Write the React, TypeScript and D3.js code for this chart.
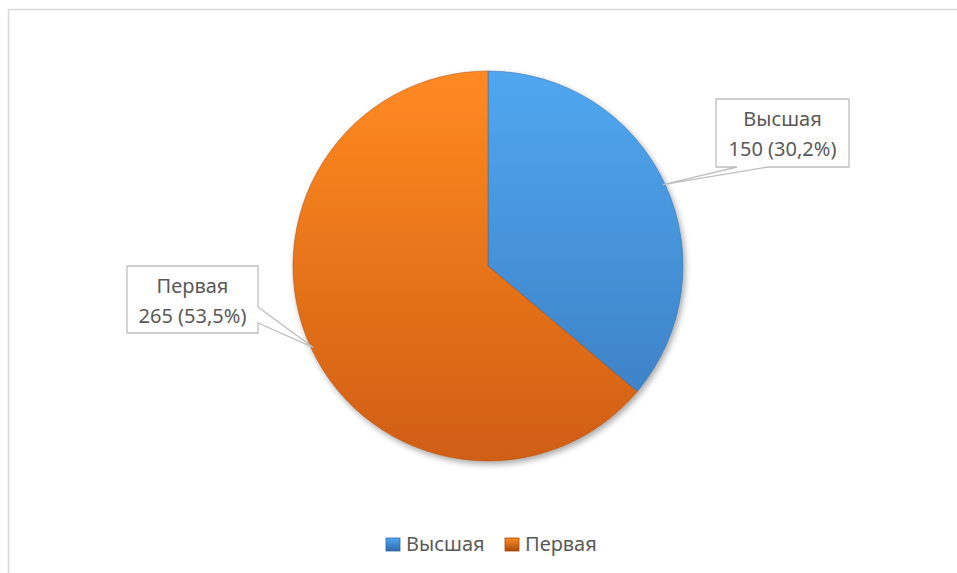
import React from 'react';
import * as d3 from 'd3';

const categories = ['Высшая', 'Первая'];
const values = [150, 265];
const shareLabels = ['30,2%', '53,5%'];

const W = 957;
const H = 573;
const cx = 488;
const cy = 266;
const R = 195;

// top / bottom gradient colours per slice
const sliceColors = [
  { top: '#50a7f0', bottom: '#3a7bbf', edge: '#2f6aa8' },
  { top: '#ff8a22', bottom: '#d05e12', edge: '#a94c0c' },
];

// label boxes (layout only): box rect + where the wedge leaves the box
const boxes = [
  { x: 716, y: 99, w: 133, h: 68, side: 'bottom', a: 21, b: 52 },
  { x: 127, y: 266, w: 131, h: 67, side: 'right', a: 41, b: 57 },
];

const font = '"Noto Sans", "DejaVu Sans", sans-serif';

export default function App() {
  const pie = d3.pie<number>().sort(null).startAngle(0).endAngle(2 * Math.PI);
  const arcs = pie(values);
  const arc = d3.arc<d3.PieArcDatum<number>>().innerRadius(0).outerRadius(R);
  const rim = d3.arc<d3.PieArcDatum<number>>().innerRadius(R - 2).outerRadius(R - 2);

  const callout = (i: number) => {
    const bx = boxes[i];
    const [tx, ty] = rim.centroid(arcs[i]);
    const px = cx + tx;
    const py = cy + ty;
    const x1 = bx.x + bx.w;
    const y1 = bx.y + bx.h;
    if (bx.side === 'bottom') {
      return `M${bx.x},${bx.y}H${x1}V${y1}H${bx.x + bx.b}L${px},${py}L${bx.x + bx.a},${y1}H${bx.x}Z`;
    }
    return `M${bx.x},${bx.y}H${x1}V${bx.y + bx.a}L${px},${py}L${x1},${bx.y + bx.b}V${y1}H${bx.x}Z`;
  };

  const legendX = [386, 505];

  return (
    <div style={{ position: 'fixed', left: 0, top: 0, width: W, height: H, background: '#fff' }}>
      <svg width={W} height={H} style={{ display: 'block' }}>
        <defs>
          {sliceColors.map((c, i) => (
            <linearGradient
              key={i}
              id={`g${i}`}
              gradientUnits="userSpaceOnUse"
              x1={0}
              y1={-R}
              x2={0}
              y2={R}
            >
              <stop offset="0" stopColor={c.top} />
              <stop offset="1" stopColor={c.bottom} />
            </linearGradient>
          ))}
          {sliceColors.map((c, i) => (
            <linearGradient key={'l' + i} id={`lg${i}`} x1="0" y1="0" x2="0" y2="1">
              <stop offset="0" stopColor={c.top} />
              <stop offset="1" stopColor={c.edge} />
            </linearGradient>
          ))}
          <filter id="shadow" x="-10%" y="-10%" width="130%" height="130%">
            <feGaussianBlur in="SourceAlpha" stdDeviation="3" />
            <feOffset dx="2" dy="3" result="b" />
            <feComponentTransfer>
              <feFuncA type="linear" slope="0.35" />
            </feComponentTransfer>
            <feMerge>
              <feMergeNode />
              <feMergeNode in="SourceGraphic" />
            </feMerge>
          </filter>
        </defs>

        <rect x={8.5} y={9.5} width={W} height={H} fill="#fff" stroke="#d9d9d9" strokeWidth={1.5} />

        <g transform={`translate(${cx},${cy})`} filter="url(#shadow)">
          {arcs.map((d, i) => (
            <path
              key={i}
              d={arc(d) || ''}
              fill={`url(#g${i})`}
              stroke={sliceColors[i].edge}
              strokeOpacity={0.5}
              strokeWidth={1}
            />
          ))}
        </g>

        {arcs.map((d, i) => {
          const bx = boxes[i];
          const mid = bx.x + bx.w / 2;
          return (
            <g key={'lab' + i}>
              <path d={callout(i)} fill="#fff" stroke="#bfbfbf" strokeWidth={1.3} />
              <text
                x={mid}
                y={bx.y + 27}
                textAnchor="middle"
                fontFamily={font}
                fontSize={20}
                fill="#595959"
              >
                {categories[i]}
              </text>
              <text
                x={mid}
                y={bx.y + 57}
                textAnchor="middle"
                fontFamily={font}
                fontSize={20}
                fill="#595959"
              >
                {`${d.data} (${shareLabels[i]})`}
              </text>
            </g>
          );
        })}

        {categories.map((c, i) => (
          <g key={'leg' + i} transform={`translate(${legendX[i]},538)`}>
            <rect width={14} height={13} fill={`url(#lg${i})`} stroke={sliceColors[i].edge} strokeWidth={0.8} />
            <text x={20} y={13} fontFamily={font} fontSize={20} fill="#595959">
              {c}
            </text>
          </g>
        ))}
      </svg>
    </div>
  );
}
